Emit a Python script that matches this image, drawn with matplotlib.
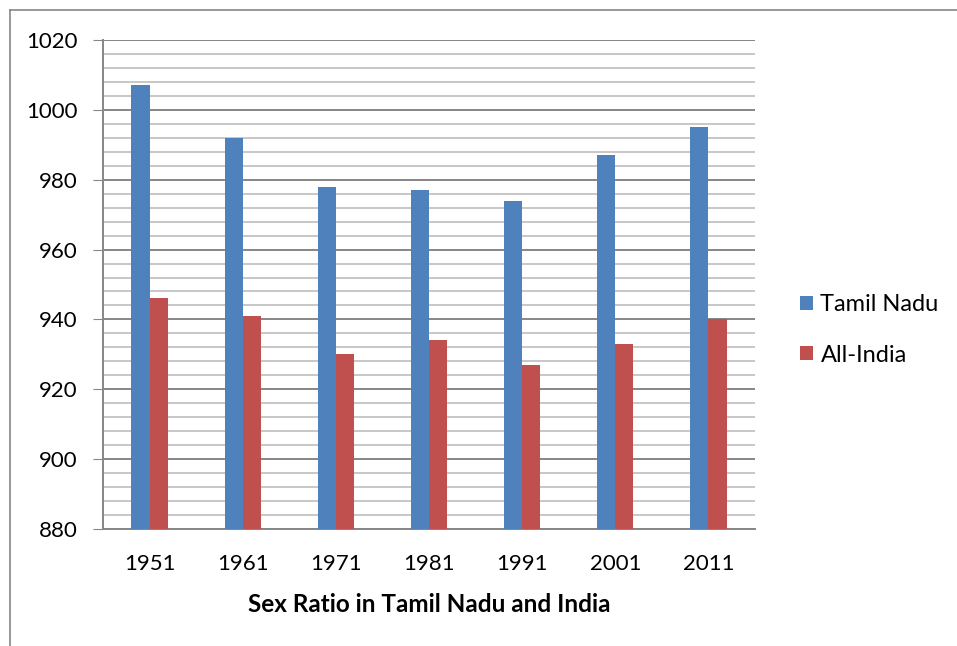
import numpy as np
import matplotlib.pyplot as plt
from matplotlib.lines import Line2D

years = ["1951", "1961", "1971", "1981", "1991", "2001", "2011"]
tamil_nadu = [1007, 992, 978, 977, 974, 987, 995]
all_india = [946, 941, 930, 934, 927, 933, 940]


def main():
    plt.rcParams['font.family'] = ['Lato', 'DejaVu Sans']
    fig = plt.figure(figsize=(9.57, 6.46), dpi=100)
    ax = fig.add_axes([103 / 957, 1 - 529 / 646, 652 / 957, 489 / 646])

    x = np.arange(len(years))
    w = 0.195
    ax.bar(x - w / 2, [v - 880 for v in tamil_nadu], w, bottom=880,
           color="#4F81BD", label="Tamil Nadu", zorder=3)
    ax.bar(x + w / 2, [v - 880 for v in all_india], w, bottom=880,
           color="#C0504D", label="All-India", zorder=3)

    ax.set_ylim(880, 1020)
    ax.set_xlim(-0.5, len(years) - 0.5)
    ax.set_yticks(range(880, 1021, 20))
    ax.set_yticks(range(880, 1021, 4), minor=True)
    ax.grid(axis="y", which="minor", color="#BEBEBE", lw=1.2, zorder=0)
    ax.grid(axis="y", which="major", color="#868686", lw=1.4, zorder=1)
    ax.tick_params(axis="y", which="major", length=7, color="#868686",
                   labelsize=16, pad=11)
    ax.tick_params(axis="y", which="minor", length=0)
    ax.set_xticks(x)
    ax.set_xticklabels(years)
    ax.tick_params(axis="x", length=0, labelsize=16, pad=18)
    for s in ["top", "right"]:
        ax.spines[s].set_visible(False)
    for s in ["left", "bottom"]:
        ax.spines[s].set_color("#868686")
        ax.spines[s].set_linewidth(1.4)

    ax.set_xlabel("Sex Ratio in Tamil Nadu and India", fontsize=17.5,
                  fontweight="bold", labelpad=14)

    ax.legend(loc="center left", bbox_to_anchor=(1.037, 0.407), frameon=False,
              fontsize=17, handlelength=0.55, handleheight=0.55,
              handletextpad=0.3, labelspacing=1.25)

    fig.add_artist(Line2D([10 / 957, 10 / 957], [0, 1 - 10 / 646],
                          color="#868686", lw=1.2))
    fig.add_artist(Line2D([10 / 957, 1], [1 - 10 / 646, 1 - 10 / 646],
                          color="#868686", lw=1.2))

    plt.savefig("out.png", dpi=100)


if __name__ == "__main__":
    main()
